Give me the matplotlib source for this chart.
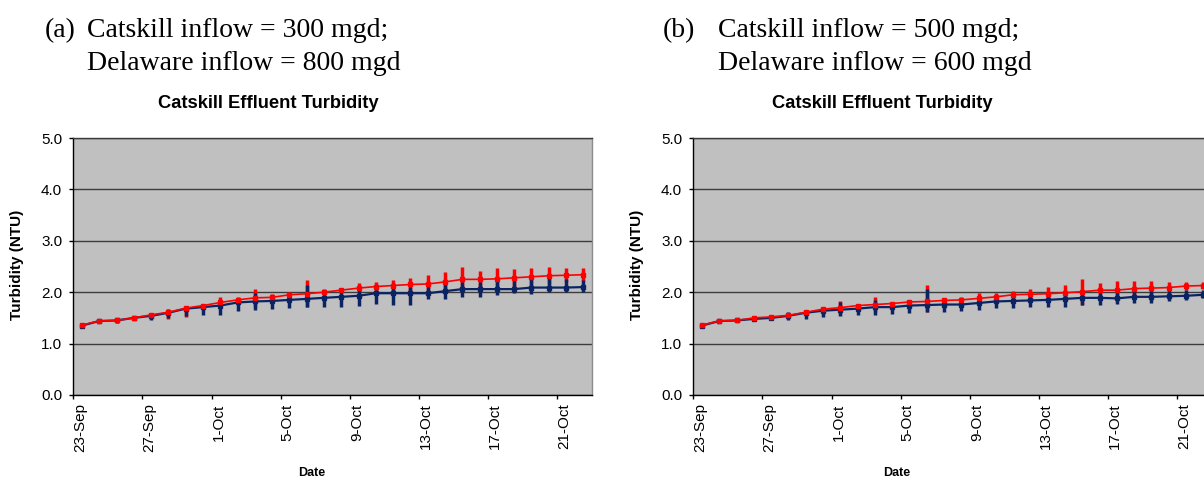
import numpy as np
import matplotlib
matplotlib.use("Agg")
import matplotlib.pyplot as plt

plt.rcParams["font.family"] = ["Liberation Sans", "DejaVu Sans"]

# Daily values, 23-Sep through 22-Oct (30 days)
days = np.arange(30)
tick_labels = ["23-Sep", "27-Sep", "1-Oct", "5-Oct", "9-Oct", "13-Oct", "17-Oct", "21-Oct"]
y_ticks = [0.0, 1.0, 2.0, 3.0, 4.0, 5.0]

# (a) Catskill 300 mgd / Delaware 800 mgd
a_red = [1.36, 1.44, 1.45, 1.50, 1.56, 1.61, 1.69, 1.74, 1.80, 1.85,
         1.89, 1.90, 1.95, 1.97, 2.00, 2.04, 2.08, 2.11, 2.13, 2.15,
         2.16, 2.20, 2.25, 2.25, 2.26, 2.28, 2.30, 2.32, 2.33, 2.34]
a_red_hi = [1.38, 1.46, 1.47, 1.52, 1.60, 1.63, 1.71, 1.78, 1.91, 1.91,
            2.07, 1.96, 2.00, 2.24, 2.07, 2.09, 2.18, 2.19, 2.24, 2.28,
            2.33, 2.39, 2.49, 2.41, 2.47, 2.45, 2.47, 2.49, 2.47, 2.47]
a_red_lo = [1.34, 1.42, 1.43, 1.48, 1.52, 1.48, 1.52, 1.70, 1.69, 1.79,
            1.71, 1.84, 1.90, 1.72, 1.93, 1.99, 1.98, 2.03, 2.02, 2.02,
            1.99, 2.01, 2.01, 2.09, 2.05, 2.11, 2.13, 2.15, 2.19, 2.21]
a_navy = [1.35, 1.44, 1.45, 1.50, 1.54, 1.60, 1.68, 1.71, 1.74, 1.80,
          1.82, 1.83, 1.85, 1.87, 1.89, 1.91, 1.93, 1.98, 1.98, 1.98,
          1.98, 2.02, 2.06, 2.06, 2.06, 2.06, 2.09, 2.09, 2.09, 2.10]
a_navy_hi = [1.37, 1.46, 1.50, 1.53, 1.58, 1.67, 1.71, 1.75, 1.83, 1.82,
             1.98, 1.95, 1.91, 2.14, 1.95, 2.00, 2.04, 2.05, 2.08, 2.10,
             2.14, 2.19, 2.20, 2.20, 2.22, 2.24, 2.26, 2.27, 2.26, 2.24]
a_navy_lo = [1.33, 1.42, 1.41, 1.45, 1.46, 1.49, 1.54, 1.56, 1.56, 1.63,
             1.65, 1.67, 1.70, 1.71, 1.71, 1.71, 1.73, 1.77, 1.75, 1.75,
             1.87, 1.87, 1.91, 1.91, 1.95, 1.98, 1.96, 2.00, 2.00, 2.00]

# (b) Catskill 500 mgd / Delaware 600 mgd
b_red = [1.36, 1.44, 1.45, 1.50, 1.52, 1.55, 1.61, 1.67, 1.70, 1.74,
         1.76, 1.78, 1.81, 1.82, 1.84, 1.85, 1.88, 1.91, 1.95, 1.96,
         1.97, 1.99, 2.01, 2.04, 2.04, 2.07, 2.08, 2.09, 2.12, 2.13]
b_red_hi = [1.38, 1.46, 1.47, 1.52, 1.54, 1.57, 1.63, 1.71, 1.83, 1.78,
            1.91, 1.81, 1.85, 2.14, 1.89, 1.91, 1.99, 1.99, 2.02, 2.06,
            2.10, 2.14, 2.26, 2.18, 2.22, 2.22, 2.22, 2.19, 2.19, 2.20]
b_red_lo = [1.34, 1.42, 1.43, 1.48, 1.50, 1.53, 1.59, 1.63, 1.57, 1.70,
            1.61, 1.75, 1.77, 1.62, 1.79, 1.79, 1.77, 1.83, 1.88, 1.86,
            1.84, 1.84, 1.76, 1.90, 1.86, 1.92, 1.94, 1.99, 2.05, 2.06]
b_navy = [1.35, 1.44, 1.45, 1.48, 1.50, 1.54, 1.60, 1.64, 1.66, 1.68,
          1.71, 1.71, 1.74, 1.75, 1.76, 1.76, 1.79, 1.82, 1.83, 1.84,
          1.85, 1.87, 1.89, 1.89, 1.88, 1.91, 1.91, 1.92, 1.93, 1.95]
b_navy_hi = [1.37, 1.46, 1.47, 1.52, 1.53, 1.61, 1.65, 1.69, 1.80, 1.74,
             1.84, 1.75, 1.78, 2.06, 1.82, 1.82, 1.84, 1.88, 1.90, 1.93,
             1.95, 1.96, 2.02, 1.99, 2.01, 2.02, 2.02, 2.02, 2.04, 2.05]
b_navy_lo = [1.33, 1.42, 1.43, 1.44, 1.47, 1.46, 1.48, 1.52, 1.54, 1.56,
             1.56, 1.58, 1.60, 1.62, 1.62, 1.64, 1.66, 1.69, 1.70, 1.72,
             1.72, 1.72, 1.75, 1.75, 1.77, 1.79, 1.79, 1.82, 1.85, 1.89]

RED = "#ff0000"
NAVY = "#0a2463"
PLOT_BG = "#c0c0c0"
GRID = "#3c3c3c"

W, H = 1204, 483
fig = plt.figure(figsize=(W / 100, H / 100), dpi=100)


def fx(px):
    return px / W


def fy(py):
    return 1 - py / H


def draw_panel(ax, red, red_lo, red_hi, navy, navy_lo, navy_hi):
    red = np.asarray(red)
    navy = np.asarray(navy)
    ax.set_facecolor(PLOT_BG)
    ax.errorbar(days, red, yerr=[red - np.asarray(red_lo), np.asarray(red_hi) - red],
                fmt="none", ecolor=RED, elinewidth=2.5, capsize=0, zorder=2)
    ax.errorbar(days, navy, yerr=[navy - np.asarray(navy_lo), np.asarray(navy_hi) - navy],
                fmt="none", ecolor=NAVY, elinewidth=2.5, capsize=0, zorder=3)
    ax.plot(days, navy, color=NAVY, lw=1.6, marker="s", ms=3, zorder=4)
    ax.plot(days, red, color=RED, lw=1.2, marker="s", ms=3.4, zorder=5)

    ax.set_xlim(-0.5, 29.5)
    ax.set_ylim(0, 5)
    ax.set_yticks(y_ticks)
    ax.set_yticklabels([f"{v:.1f}" for v in y_ticks])
    ax.set_xticks(np.arange(-0.5, 29, 4))
    # date labels sit just right of their tick marks
    ax.set_xticklabels(tick_labels, rotation=90, va="top", ha="left")
    ax.yaxis.grid(True, color=GRID, lw=1.0)
    ax.set_axisbelow(True)
    ax.tick_params(axis="both", direction="out", length=3, width=1,
                   color="black", labelsize=11)
    ax.tick_params(axis="y", pad=5)
    ax.tick_params(axis="x", pad=3)
    for side in ("left", "bottom"):
        ax.spines[side].set_color("black")
        ax.spines[side].set_linewidth(1.0)
    ax.spines["top"].set_color(GRID)
    ax.spines["top"].set_linewidth(1.0)
    ax.spines["right"].set_color("#8c8c8c")
    ax.spines["right"].set_linewidth(1.0)


ax_w = 518.7
ax_top, ax_bot = 138, 395
for left_px, data in ((73.3, (a_red, a_red_lo, a_red_hi, a_navy, a_navy_lo, a_navy_hi)),
                      (693.3, (b_red, b_red_lo, b_red_hi, b_navy, b_navy_lo, b_navy_hi))):
    ax = fig.add_axes([fx(left_px), fy(ax_bot), fx(ax_w), (ax_bot - ax_top) / H])
    draw_panel(ax, *data)

serif = ["Liberation Serif", "DejaVu Serif"]
# Panel headers
fig.text(fx(45), fy(37), "(a)", family=serif, fontsize=20, va="baseline", ha="left")
fig.text(fx(87), fy(37), "Catskill inflow = 300 mgd;", family=serif, fontsize=20,
         va="baseline", ha="left")
fig.text(fx(87), fy(70.5), "Delaware inflow = 800 mgd", family=serif, fontsize=20,
         va="baseline", ha="left")
fig.text(fx(663), fy(37), "(b)", family=serif, fontsize=20, va="baseline", ha="left")
fig.text(fx(718), fy(37), "Catskill inflow = 500 mgd;", family=serif, fontsize=20,
         va="baseline", ha="left")
fig.text(fx(718), fy(70.5), "Delaware inflow = 600 mgd", family=serif, fontsize=20,
         va="baseline", ha="left")

# Chart titles and axis labels
for title_x, ylab_x, date_x in ((268, 17, 312), (882, 637, 897)):
    fig.text(fx(title_x), fy(108), "Catskill Effluent Turbidity", fontsize=13.2,
             fontweight="bold", ha="center", va="baseline")
    fig.text(fx(ylab_x), fy(265), "Turbidity (NTU)", fontsize=11, fontweight="bold",
             rotation=90, ha="center", va="center")
    fig.text(fx(date_x), fy(473), "Date", fontsize=9, fontweight="bold",
             ha="center", va="center")

fig.savefig("out.png", dpi=100)
